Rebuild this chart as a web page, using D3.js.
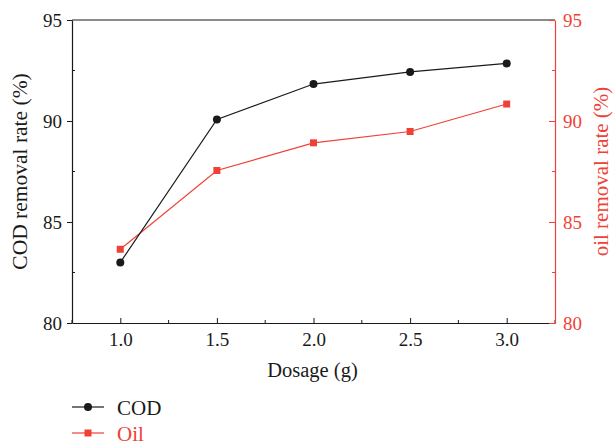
<!DOCTYPE html>
<html>
<head>
<meta charset="utf-8">
<script src="https://cdn.jsdelivr.net/npm/d3@7"></script>
<style>
  body { margin: 0; background: #fff; }
</style>
</head>
<body>
<div id="chart"></div>
<script>
// Data
const dosage = [1.0, 1.5, 2.0, 2.5, 3.0];
const codRemoval = [83.0, 90.08, 91.83, 92.43, 92.85];
const oilRemoval = [83.65, 87.55, 88.92, 89.48, 90.84];
const xTicks = [1.0, 1.5, 2.0, 2.5, 3.0];
const yTicks = [80, 85, 90, 95];

const FONT = "'Liberation Serif', 'Times New Roman', serif";
const black = "#1a1a1a", red = "#ef4136";
const W = 613, H = 445;
const margin = {top: 20, right: 58, bottom: 122, left: 72};
const width = W - margin.left - margin.right,
      height = H - margin.top - margin.bottom;

const svg = d3.select("#chart").append("svg")
  .attr("width", W).attr("height", H)
  .style("font-family", FONT);
const g = svg.append("g")
  .attr("transform", `translate(${margin.left},${margin.top})`);

const x = d3.scaleLinear().domain([0.75, 3.25]).range([0, width]);
const y = d3.scaleLinear().domain([80, 95]).range([height, 0]);

// minor ticks
const xMinor = [0.75, 1.25, 1.75, 2.25, 2.75, 3.25];
const yMinor = [82.5, 87.5, 92.5];

// bottom axis
const xAxis = g.append("g").attr("transform", `translate(0,${height})`)
  .call(d3.axisBottom(x).tickValues(xTicks).tickFormat(d3.format(".1f"))
    .tickSizeInner(-5).tickSizeOuter(0).tickPadding(9.5));
xAxis.attr("font-family", null).attr("font-size", null);
xAxis.select(".domain").attr("stroke", black).attr("stroke-width", 1.2);
xAxis.selectAll(".tick line").attr("stroke", black);
xAxis.selectAll("text").attr("fill", black).style("font-size", "19px");
g.append("g").selectAll("line").data(xMinor).join("line")
  .attr("x1", d => x(d)).attr("x2", d => x(d))
  .attr("y1", height).attr("y2", height - 3).attr("stroke", black);

// top frame
g.append("line").attr("x1", 0).attr("x2", width).attr("y1", 0).attr("y2", 0)
  .attr("stroke", black).attr("stroke-width", 1.2);

// left axis
const yAxisL = g.append("g")
  .call(d3.axisLeft(y).tickValues(yTicks).tickSizeInner(5).tickSizeOuter(0).tickPadding(5));
yAxisL.attr("font-family", null).attr("font-size", null);
yAxisL.select(".domain").attr("stroke", black).attr("stroke-width", 1.2);
yAxisL.selectAll(".tick line").attr("stroke", black);
yAxisL.selectAll("text").attr("fill", black).style("font-size", "19px");
g.append("g").selectAll("line").data(yMinor).join("line")
  .attr("x1", 0).attr("x2", 3)
  .attr("y1", d => y(d)).attr("y2", d => y(d)).attr("stroke", black);

// right axis
const yAxisR = g.append("g").attr("transform", `translate(${width},0)`)
  .call(d3.axisRight(y).tickValues(yTicks).tickSizeInner(-6).tickSizeOuter(0).tickPadding(8));
yAxisR.attr("font-family", null).attr("font-size", null);
yAxisR.select(".domain").attr("stroke", red).attr("stroke-width", 1.2);
yAxisR.selectAll(".tick line").attr("stroke", red);
yAxisR.selectAll("text").attr("fill", red).style("font-size", "19px");
g.append("g").selectAll("line").data(yMinor).join("line")
  .attr("x1", width).attr("x2", width - 3)
  .attr("y1", d => y(d)).attr("y2", d => y(d)).attr("stroke", red);

// axis titles
g.append("text").attr("x", width / 2 - 1).attr("y", height + 54)
  .attr("text-anchor", "middle").attr("fill", black).style("font-size", "20.5px")
  .text("Dosage (g)");
g.append("text").attr("transform", `translate(-45,${height / 2}) rotate(-90)`)
  .attr("text-anchor", "middle").attr("fill", black).style("font-size", "21.5px")
  .text("COD removal rate (%)");
g.append("text").attr("transform", `translate(${width + 53},${height / 2}) rotate(-90)`)
  .attr("text-anchor", "middle").attr("fill", red).style("font-size", "21px")
  .text("oil removal rate (%)");

// lines
const codData = dosage.map((d, i) => ({x: d, y: codRemoval[i]}));
const oilData = dosage.map((d, i) => ({x: d, y: oilRemoval[i]}));
const line = d3.line().x(d => x(d.x)).y(d => y(d.y));

g.append("path").datum(oilData).attr("fill", "none")
  .attr("stroke", red).attr("stroke-width", 1.2).attr("d", line);
g.append("path").datum(codData).attr("fill", "none")
  .attr("stroke", black).attr("stroke-width", 1.2).attr("d", line);

g.append("g").selectAll("rect").data(oilData).join("rect")
  .attr("x", d => x(d.x) - 3.5).attr("y", d => y(d.y) - 3.5)
  .attr("width", 7).attr("height", 7).attr("fill", red);
g.append("g").selectAll("circle").data(codData).join("circle")
  .attr("cx", d => x(d.x)).attr("cy", d => y(d.y)).attr("r", 4).attr("fill", black);

// legend
const legend = svg.append("g");
const items = [{name: "COD", color: black, shape: "circle", yy: 407},
               {name: "Oil", color: red, shape: "square", yy: 433}];
items.forEach(it => {
  legend.append("line").attr("x1", 72).attr("x2", 104)
    .attr("y1", it.yy).attr("y2", it.yy).attr("stroke", it.color).attr("stroke-width", 1.2);
  if (it.shape === "circle") {
    legend.append("circle").attr("cx", 88).attr("cy", it.yy).attr("r", 4).attr("fill", it.color);
  } else {
    legend.append("rect").attr("x", 84.5).attr("y", it.yy - 3.5)
      .attr("width", 7).attr("height", 7).attr("fill", it.color);
  }
  legend.append("text").attr("x", 117).attr("y", it.yy + 8)
    .attr("fill", it.color).style("font-size", "21px").text(it.name);
});
</script>
</body>
</html>
